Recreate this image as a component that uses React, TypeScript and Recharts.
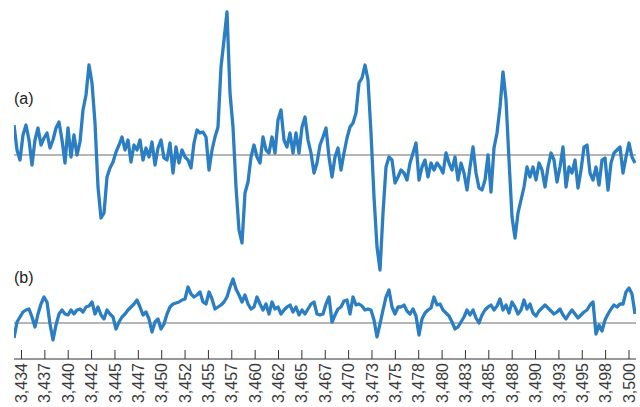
import React from "react";
import { LineChart, Line, XAxis, YAxis, ReferenceLine } from "recharts";

// tick labels along the time axis (evenly spaced)
const TICK_LABELS = [
  "3,434", "3,437", "3,440", "3,442", "3,445", "3,447", "3,450", "3,452", "3,455",
  "3,457", "3,460", "3,462", "3,465", "3,467", "3,470", "3,473", "3,475", "3,478",
  "3,480", "3,483", "3,485", "3,488", "3,490", "3,493", "3,495", "3,498", "3,500",
];
const TICK_FIRST = 3434;
const TICK_LAST = 3500;

// sampling of both traces
const T_START = 3433.185;
const T_STEP = 0.32593;
const T_END = 3500.76;

// trace (a): offset from its baseline
const traceA = [
  30, 5, -5, 20, 30, 15, -10, 15, 27, 10,
  17, 22, 7, 15, 27, 33, 15, -8, 27, -2,
  20, 0, 13, 45, 60, 90, 72, 32, -32, -63,
  -58, -22, -13, -7, 3, 10, 18, 5, 15, -7,
  10, 5, 15, -5, 7, -2, 13, -10, 7, 15,
  -3, -5, 12, -18, 8, -8, 5, -2, -5, -13,
  12, 25, 22, 23, 18, -15, 5, 18, 28, 88,
  115, 143, 62, 28, -32, -75, -88, -38, -27, -2,
  10, -2, -8, 18, 5, 2, 18, 2, 35, 45,
  15, 8, 22, 2, 22, 2, 28, 38, 15, 2,
  -18, -8, 10, 18, 27, -2, -22, -2, 7, -15,
  2, 17, 28, 32, 42, 72, 77, 90, 75, 22,
  -42, -92, -115, -58, -12, -2, -5, -28, -22, -15,
  -18, -25, -8, 2, 12, -25, -12, -5, -22, -8,
  -15, -8, -12, -18, 2, -8, -15, -2, -25, -8,
  -18, -35, -12, 8, -18, -33, -35, -25, 0, -37,
  7, 22, 48, 83, 55, -5, -62, -83, -58, -45,
  -32, -12, -22, -12, -25, -8, -15, -32, -12, 2,
  -5, -27, -12, 8, -32, -12, -18, -5, -33, -15,
  8, 10, -18, -25, -12, -30, -5, -3, -35, -8,
  2, 5, 8, -18, -2, 12, -2, -8,
];

// trace (b): offset from its baseline
const traceB = [
  -15, 1, 6, 11, 13, 14, 6, -4, 9, 19,
  26, 21, -1, -17, -2, 9, 13, 9, 8, 13,
  9, 13, 14, 11, 16, 17, 21, 9, 16, 8,
  4, 13, 9, 6, -6, 1, 6, 9, 13, 16,
  19, 23, 16, 8, 11, 4, -9, 1, 4, -6,
  -1, 9, 16, 19, 20, 21, 23, 24, 36, 29,
  26, 28, 31, 21, 19, 31, 24, 14, 16, 18,
  21, 26, 36, 44, 34, 28, 21, 28, 19, 14,
  16, 26, 19, 13, 19, 9, 21, 14, 16, 9,
  13, 16, 18, 11, 16, 8, 13, 9, 14, 19,
  21, 9, 8, 9, 19, 26, 1, 8, 14, 16,
  22, 23, 9, 26, 18, 19, 17, 13, 14, 13,
  3, -14, -1, 13, 26, 33, 16, 9, 16, 16,
  18, 12, 9, 14, 7, -12, 4, 10, 13, 15,
  26, 18, 19, 13, 10, 7, 1, -6, -4, 1,
  6, 13, 8, 13, 5, 0, 8, 13, 16, 18,
  13, 17, 24, 13, 18, 10, 21, 16, 9, 13,
  23, 14, 19, 10, 7, 12, 15, 18, 15, 12,
  9, 11, 14, 8, 4, 9, 13, 9, 5, 8,
  11, 13, 18, 21, -11, -2, -8, 3, 9, 14,
  18, 16, 19, 19, 31, 35, 29, 9,
];

const BLUE = "#2b7ec1";
const TEXT_FONT = '"Liberation Sans", Arial, sans-serif';

const tickStep = (TICK_LAST - TICK_FIRST) / (TICK_LABELS.length - 1);
const tickValues = TICK_LABELS.map((_, i) => TICK_FIRST + i * tickStep);

const data = traceA.map((a, i) => ({
  t: T_START + i * T_STEP,
  a,
  b: traceB[i],
}));

function TimeTick(props: any) {
  const { x, y, payload } = props;
  const idx = Math.round((payload.value - TICK_FIRST) / tickStep);
  const ty = y + 4;
  return (
    <g>
      <line x1={x} y1={y - 9} x2={x} y2={y} stroke="#333" strokeWidth={1} />
      <text
        x={x}
        y={ty}
        dy="0.35em"
        textAnchor="end"
        transform={`rotate(-90 ${x} ${ty})`}
        fill="#3a3a3a"
        fontSize={16}
        fontFamily={TEXT_FONT}
      >
        {TICK_LABELS[idx]}
      </text>
    </g>
  );
}

export default function App() {
  return (
    <div style={{ position: "absolute", left: 0, top: 0, width: 640, height: 407 }}>
      <LineChart
        width={640}
        height={407}
        data={data}
        margin={{ top: 0, right: 4, left: 14, bottom: 0 }}
      >
        <XAxis
          dataKey="t"
          type="number"
          domain={[T_START, T_END]}
          allowDataOverflow
          ticks={tickValues}
          interval={0}
          tickLine={false}
          tickSize={0}
          tickMargin={0}
          height={48}
          axisLine={{ stroke: "#333" }}
          tick={(p: any) => <TimeTick {...p} />}
        />
        <YAxis yAxisId="a" hide domain={[-204, 155]} allowDataOverflow />
        <YAxis yAxisId="b" hide domain={[-36, 323]} allowDataOverflow />
        <ReferenceLine yAxisId="a" y={0} stroke="#9e9e9e" strokeWidth={1.5} />
        <ReferenceLine yAxisId="b" y={0} stroke="#9e9e9e" strokeWidth={1.5} />
        <Line
          yAxisId="a"
          dataKey="a"
          type="linear"
          stroke={BLUE}
          strokeWidth={3.3}
          strokeLinejoin="round"
          dot={false}
          isAnimationActive={false}
        />
        <Line
          yAxisId="b"
          dataKey="b"
          type="linear"
          stroke={BLUE}
          strokeWidth={3.3}
          strokeLinejoin="round"
          dot={false}
          isAnimationActive={false}
        />
      </LineChart>
      <svg
        width={640}
        height={407}
        style={{ position: "absolute", left: 0, top: 0, pointerEvents: "none" }}
      >
        <text x={14} y={104} fontSize={16} fill="#222" fontFamily={TEXT_FONT}>
          (a)
        </text>
        <text x={14} y={283} fontSize={16} fill="#222" fontFamily={TEXT_FONT}>
          (b)
        </text>
      </svg>
    </div>
  );
}
